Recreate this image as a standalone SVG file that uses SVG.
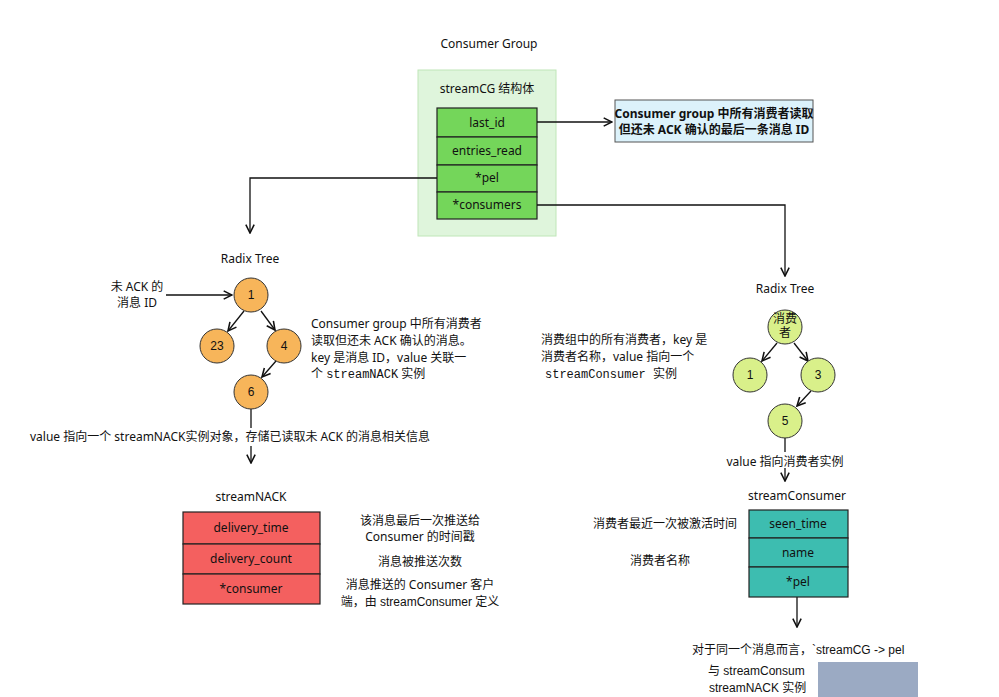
<svg xmlns="http://www.w3.org/2000/svg" width="999" height="697" viewBox="0 0 999 697">
<defs>
<style>
text{font-family:"Comic Sans MS","Noto Sans","Noto Sans CJK SC",sans-serif;fill:#111;font-size:12px}
.c{text-anchor:middle}
.ln{fill:none;stroke:#111;stroke-width:1.3}
.row{stroke:#222;stroke-width:1.2}
.mono{font-family:"Liberation Mono","Noto Sans CJK SC",monospace}
.sans{font-family:"Liberation Sans","Noto Sans CJK SC",sans-serif}
</style>
<marker id="a" viewBox="0 0 10 10" refX="9" refY="5" markerWidth="8" markerHeight="8" orient="auto"><path d="M1,1 L9,5 L1,9" fill="none" stroke="#111" stroke-width="1.5"/></marker>
</defs>
<rect width="999" height="697" fill="#fff"/>
<text x="489" y="48" class="c" font-size="11">Consumer Group</text>
<g id="streamCG">
<rect x="418" y="70" width="138" height="166" fill="#dff5dc" stroke="#bfe6b8"/>
<text x="487" y="93" class="c">streamCG 结构体</text>
<rect class="row" x="437" y="108" width="100" height="29" fill="#74d65a"/>
<rect class="row" x="437" y="137" width="100" height="28" fill="#74d65a"/>
<rect class="row" x="437" y="165" width="100" height="27" fill="#74d65a"/>
<rect class="row" x="437" y="192" width="100" height="27" fill="#74d65a"/>
<text x="487" y="127" class="c" font-size="14">last_id</text>
<text x="487" y="155" class="c">entries_read</text>
<text x="487" y="182" class="c">*pel</text>
<text x="487" y="209" class="c">*consumers</text>
</g>
<g id="note-lastid">
<rect x="615" y="100" width="198" height="42" fill="#dcf2fb" stroke="#555"/>
<text x="714" y="118" class="c" font-size="10.5" font-weight="bold" fill="#1a2a6a">Consumer group 中所有消费者读取</text>
<text x="714" y="134" class="c" font-size="10.5" font-weight="bold" fill="#1a2a6a">但还未 ACK 确认的最后一条消息 ID</text>
</g>
<g id="connectors">
<path class="ln" d="M537,122 L612,122" marker-end="url(#a)"/>
<path class="ln" d="M437,178 L250,178 L250,233" marker-end="url(#a)"/>
<path class="ln" d="M537,205 L785,205 L785,276" marker-end="url(#a)"/>
<path class="ln" d="M166,295 L232,295" marker-end="url(#a)"/>
<path class="ln" d="M244,311 L228,331" marker-end="url(#a)"/>
<path class="ln" d="M261,311 L275,330" marker-end="url(#a)"/>
<path class="ln" d="M276,361 L262,377" marker-end="url(#a)"/>
<path class="ln" d="M251,409 L251,428"/>
<path class="ln" d="M251,446 L251,463" marker-end="url(#a)"/>
<path class="ln" d="M777,343 L762,361" marker-end="url(#a)"/>
<path class="ln" d="M794,343 L808,361" marker-end="url(#a)"/>
<path class="ln" d="M811,391 L797,406" marker-end="url(#a)"/>
<path class="ln" d="M785,438 L785,452"/>
<path class="ln" d="M785,468 L785,481" marker-end="url(#a)"/>
<path class="ln" d="M797,597 L797,627" marker-end="url(#a)"/>
</g>
<text x="250" y="263" class="c" font-size="11">Radix Tree</text>
<text x="785" y="293" class="c" font-size="11">Radix Tree</text>
<text x="137" y="291" class="c" font-size="11">未 ACK 的</text>
<text x="137" y="307" class="c" font-size="11">消息 ID</text>
<g id="n1"><circle cx="251" cy="295" r="17" fill="#f7b55a" stroke="#333"/><text x="251" y="299" class="c sans" font-size="11">1</text></g>
<g id="n23"><circle cx="217" cy="346" r="17" fill="#f7b55a" stroke="#333"/><text x="217" y="350" class="c sans" font-size="11">23</text></g>
<g id="n4"><circle cx="284" cy="346" r="17" fill="#f7b55a" stroke="#333"/><text x="284" y="350" class="c sans" font-size="11">4</text></g>
<g id="n6"><circle cx="251" cy="392" r="17" fill="#f7b55a" stroke="#333"/><text x="251" y="396" class="c sans" font-size="11">6</text></g>
<text x="311" y="328" font-size="13.5" fill="#333">Consumer group 中所有消费者</text>
<text x="311" y="345" font-size="13.5" fill="#333">读取但还未 ACK 确认的消息。</text>
<text x="311" y="362" font-size="13.5">key 是消息 ID，value 关联一</text>
<text x="311" y="378" font-size="13.5" fill="#333">个 <tspan class="mono">streamNACK</tspan> 实例</text>
<text x="30" y="441" font-size="13.5">value 指向一个 streamNACK实例对象，存储已读取未 ACK 的消息相关信息</text>
<text x="251" y="501" class="c" font-size="13">streamNACK</text>
<g id="streamNACK">
<rect class="row" x="183" y="512" width="137" height="32" fill="#f4605f"/>
<rect class="row" x="183" y="544" width="137" height="30" fill="#f4605f"/>
<rect class="row" x="183" y="574" width="137" height="30" fill="#f4605f"/>
<text x="251" y="532" class="c">delivery_time</text>
<text x="251" y="563" class="c">delivery_count</text>
<text x="251" y="593" class="c">*consumer</text>
</g>
<text x="420" y="525" class="c" font-size="11">该消息最后一次推送给</text>
<text x="420" y="541" class="c" font-size="11">Consumer 的时间戳</text>
<text x="420" y="566" class="c" font-size="11">消息被推送次数</text>
<text x="420" y="589" class="c" font-size="11">消息推送的 Consumer 客户</text>
<text x="420" y="606" class="c sans" font-size="11">端，由 streamConsumer 定义</text>
<g id="c0"><circle cx="785" cy="327" r="17" fill="#d9f08a" stroke="#333"/><text x="785" y="323" class="c" font-size="9.5">消费</text><text x="785" y="337" class="c" font-size="9.5">者</text></g>
<g id="c1"><circle cx="750" cy="375" r="17" fill="#d9f08a" stroke="#333"/><text x="750" y="379" class="c sans" font-size="11">1</text></g>
<g id="c3"><circle cx="818" cy="375" r="17" fill="#d9f08a" stroke="#333"/><text x="818" y="379" class="c sans" font-size="11">3</text></g>
<g id="c5"><circle cx="785" cy="421" r="17" fill="#d9f08a" stroke="#333"/><text x="785" y="425" class="c sans" font-size="11">5</text></g>
<text x="541" y="344" font-size="13.5">消费组中的所有消费者，key 是</text>
<text x="541" y="361" font-size="13.5">消费者名称，value 指向一个</text>
<text x="545" y="378" font-size="13.5" class="mono" fill="#333">streamConsumer <tspan font-family="Noto Sans CJK SC">实例</tspan></text>
<text x="785" y="466" class="c" font-size="11">value 指向消费者实例</text>
<text x="797" y="500" class="c" font-size="11">streamConsumer</text>
<g id="streamConsumer">
<rect class="row" x="749" y="510" width="99" height="28" fill="#3dbdb0"/>
<rect class="row" x="749" y="538" width="99" height="29" fill="#3dbdb0"/>
<rect class="row" x="749" y="567" width="99" height="30" fill="#3dbdb0"/>
<text x="798" y="528" class="c" font-size="11.5">seen_time</text>
<text x="798" y="557" class="c" font-size="11.5">name</text>
<text x="798" y="586" class="c" font-size="11.5">*pel</text>
</g>
<text x="665" y="528" class="c" font-size="11">消费者最近一次被激活时间</text>
<text x="660" y="565" class="c" font-size="11">消费者名称</text>
<text x="692" y="654" class="sans" font-size="14">对于同一个消息而言，`streamCG -&gt; pel</text>
<text x="708" y="675" class="sans" font-size="14">与  streamConsum</text>
<text x="709" y="692" class="sans" font-size="14">streamNACK 实例</text>
<rect x="818" y="662" width="100" height="35" fill="#8a9bb8" opacity="0.85"/>
</svg>
